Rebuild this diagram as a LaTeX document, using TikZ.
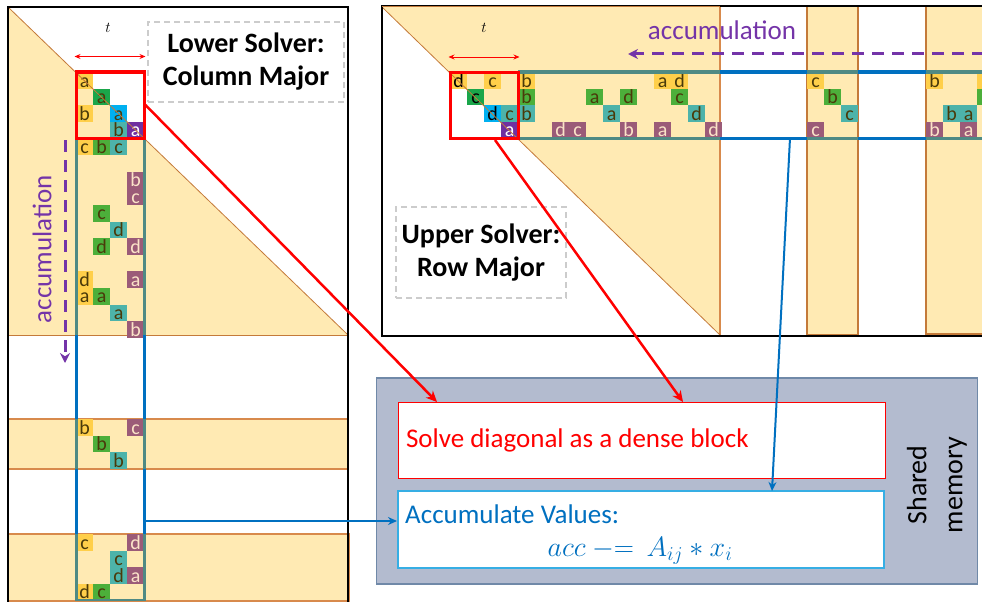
\RequirePackage{fix-cm}
\documentclass[tikz,border=0pt]{standalone}
\usepackage{fontspec}
\setmainfont{Carlito}
\usetikzlibrary{positioning}
\usetikzlibrary{arrows.meta}

\definecolor{pale}{HTML}{FFEAB3}
\definecolor{edgebrown}{HTML}{C47A3A}
\definecolor{bandedge}{HTML}{D88A4C}
\definecolor{gold}{HTML}{FFCF4A}
\definecolor{leaf}{HTML}{4CAF3A}
\definecolor{dleaf}{HTML}{1AA64A}
\definecolor{sea}{HTML}{4DB3AA}
\definecolor{sky}{HTML}{00B0F0}
\definecolor{plum}{HTML}{9B5B78}
\definecolor{grape}{HTML}{7030A0}
\definecolor{ink}{HTML}{4A3A0A}
\definecolor{cream}{HTML}{FBE3C8}
\definecolor{slate}{HTML}{4F8A84}
\definecolor{navy}{HTML}{0070C0}
\definecolor{accent}{HTML}{7434A8}
\definecolor{shared}{HTML}{B3BBCF}
\definecolor{sharededge}{HTML}{7089A8}
\definecolor{lightblue}{HTML}{36AEE4}
\definecolor{dashgray}{HTML}{CCCCCC}

\tikzset{
    cell/.style={
        anchor=north west,
        minimum width=17pt, minimum height=16.6pt,
        inner sep=0pt, text height=13pt, text depth=0pt,
        text=ink, font=\fontsize{20}{20}\selectfont
    },
    ylw/.style={fill=gold},
    ylwk/.style={fill=gold, text=black},
    grn/.style={fill=leaf},
    dgrn/.style={fill=dleaf},
    dgrnk/.style={fill=dleaf, text=black},
    tea/.style={fill=sea},
    dblu/.style={fill=sky},
    dbluk/.style={fill=sky, text=black},
    mau/.style={fill=plum, text=cream},
    dpur/.style={fill=grape, text=white},
    blockbox/.style={
        draw=red, line width=3pt,
        minimum width=68pt, minimum height=66pt, inner sep=0pt
    },
    span/.style={red, line width=0.8pt, {Stealth[length=6pt,width=5pt]}-{Stealth[length=6pt,width=5pt]}},
    tlabel/.style={font=\fontsize{15}{15}\selectfont},
    accum/.style={text=accent, inner sep=0pt, font=\fontsize{27}{27}\selectfont},
    accarrow/.style={accent, line width=3pt, dash pattern=on 12pt off 8pt, -{Stealth[length=10pt,width=10pt]}},
    solverlbl/.style={
        draw=dashgray, line width=1.5pt, dash pattern=on 6pt off 4pt,
        fill=white, align=center,
        font=\bfseries\fontsize{28}{33}\selectfont
    },
    sharedbox/.style={draw=sharededge, fill=shared, line width=1.2pt, minimum width=601pt, minimum height=206pt},
    solvebox/.style={
        draw=red, fill=white, line width=1pt,
        minimum height=76pt, text width=471pt, inner sep=8pt,
        align=flush left, text=red, font=\fontsize{27}{27}\selectfont
    },
    accbox/.style={draw=lightblue, fill=white, line width=1.2pt, minimum width=486pt, minimum height=77pt},
    acctext/.style={text=navy, inner sep=1pt, font=\fontsize{27}{27}\selectfont},
    redarrow/.style={red, line width=2.5pt, -{Stealth[length=11pt,width=10pt]}},
    bluearrow/.style={navy, line width=2pt, -{Stealth[length=9pt,width=8pt]}}
}

\begin{document}
\begin{tikzpicture}[x=1pt, y=-1pt]
\useasboundingbox (0,0) rectangle (982,602);
\clip (0,0) rectangle (982,602);

% lower solver panel
\fill[pale] (8,7) -- (348,335) -- (8,335) -- cycle;
\draw[bandedge, fill=pale, line width=1.2pt] (8,419) rectangle (348,469);
\draw[bandedge, fill=pale, line width=1.2pt] (8,534) rectangle (349,601);
\draw[edgebrown, line width=1pt] (8,335) -- (348,335);

\foreach \c/\r/\s/\l in {0/0/ylw/a, 1/1/dgrn/a, 0/2/ylw/b, 2/2/dblu/a, 2/3/tea/b, 3/3/dpur/a,
        0/4/ylw/c, 1/4/grn/b, 2/4/tea/c, 3/6/mau/b, 3/7/mau/c,
        1/8/grn/c, 2/9/tea/d, 1/10/grn/d, 3/10/mau/d,
        0/12/ylw/d, 3/12/mau/a, 0/13/ylw/a, 1/13/grn/a, 2/14/tea/a, 3/15/mau/b}
    \node[cell, \s] (L\c-\r) at (76+17*\c, 72+16.6*\r) {\l};
\foreach \c/\r/\s/\l in {0/0/ylw/b, 3/0/mau/c, 1/1/grn/b, 2/2/tea/b}
    \node[cell, \s] (M\c-\r) at (76+17*\c, 419+16.6*\r) {\l};
\foreach \c/\r/\s/\l in {0/0/ylw/c, 3/0/mau/d, 2/1/tea/c, 2/2/tea/d, 3/2/mau/a, 0/3/ylw/d, 1/3/grn/c}
    \node[cell, \s] (N\c-\r) at (76+17*\c, 534+16.6*\r) {\l};

\draw[edgebrown, line width=0.8pt] (8,7) -- (348,335);
\foreach \x in {76,144} {
    \draw[navy, line width=3pt] (\x,138) -- (\x,601);
    \foreach \a/\b in {138/335, 419/469, 534/601}
        \draw[slate, line width=3pt] (\x,\a) -- (\x,\b);
}
\draw[slate, line width=2.5pt] (76,600) -- (144,600);
\draw[line width=1.2pt] (8,602) -- (8,7) -- (348,7) -- (348,602);

\node[blockbox] (lblk) at (110,105) {};
\node[tlabel] (lt) at (108,28) {$t$};
\draw[span] ([yshift=14pt]lblk.north west) -- ([yshift=14pt]lblk.north east);
\node[solverlbl, minimum width=196pt, minimum height=80pt] (lowerlbl) at (246,62) {Lower Solver:\\Column Major};

\node[accum, rotate=90] (accleft) at (42,249) {accumulation};
\coordinate (ldash1) at (65,140);
\coordinate (ldash2) at (65,363);
\draw[accarrow] (ldash1) -- (ldash2);

% upper solver panel
\fill[pale] (382,7) -- (720,7) -- (720,335) -- cycle;
\draw[bandedge, line width=1.2pt] (720,7) -- (720,335);
\draw[edgebrown, fill=pale, line width=1.2pt] (807,6) rectangle (858,335);
\draw[edgebrown, fill=pale, line width=1.2pt] (926,6) rectangle (992,334);

\foreach \c/\r/\s/\l in {0/0/ylwk/d, 2/0/ylw/c, 4/0/ylw/b, 12/0/ylw/a, 13/0/ylw/d,
        1/1/dgrnk/c, 4/1/grn/b, 8/1/grn/a, 10/1/grn/d, 13/1/grn/c,
        2/2/dbluk/d, 3/2/tea/c, 4/2/tea/b, 9/2/tea/a, 14/2/tea/d,
        3/3/dpur/a, 6/3/mau/d, 7/3/mau/c, 10/3/mau/b, 12/3/mau/a, 15/3/mau/d}
    \node[cell, \s] (R\c-\r) at (450+17*\c, 72+16.6*\r) {\l};
\foreach \c/\r/\s/\l in {0/0/ylw/c, 1/1/grn/b, 2/2/tea/c, 0/3/mau/c}
    \node[cell, \s] (S\c-\r) at (807+17*\c, 72+16.6*\r) {\l};
\foreach \c/\r/\s/\l in {0/0/ylw/b, 3/0/ylw/{}, 3/1/grn/{}, 1/2/tea/b, 2/2/tea/a, 0/3/mau/b, 2/3/mau/a}
    \node[cell, \s] (T\c-\r) at (926+17*\c, 72+16.6*\r) {\l};

\draw[edgebrown, line width=0.8pt] (382,7) -- (720,335);
\foreach \y in {72,138} {
    \draw[navy, line width=3pt] (518,\y) -- (982,\y);
    \foreach \a/\b in {518/720, 807/858, 926/982}
        \draw[slate, line width=3pt] (\a,\y) -- (\b,\y);
}
\draw[line width=1.2pt] (982,6) -- (382,6) -- (382,336) -- (982,336);
\draw[edgebrown, line width=1.2pt] (382,6.5) -- (720,6.5);

\node[blockbox] (rblk) at (484,105.5) {};
\node[tlabel] (rt) at (484,28) {$t$};
\draw[span] ([yshift=14pt]rblk.north west) -- ([yshift=14pt]rblk.north east);
\node[solverlbl, minimum width=170pt, minimum height=91pt] (upperlbl) at (481,252.5) {Upper Solver:\\Row Major};

\node[accum] (acctop) at (722,30) {accumulation};
\coordinate (rdash1) at (984,54);
\coordinate (rdash2) at (628,54);
\draw[accarrow] (rdash1) -- (rdash2);

% shared memory
\node[sharedbox] (shm) at (677,481) {};
\node[solvebox] (solve) at (641.5,440) {Solve diagonal as a dense block};
\node[accbox] (acc) at (641,529.5) {};
\node[acctext, anchor=west] (accname) at (404,514) {Accumulate Values:};
\node[acctext, font=\fontsize{28}{28}\selectfont] (accform) at (640,551) {$acc\ {-}{=}\ \ A_{ij} * x_i$};
\node[rotate=90, align=center, font=\fontsize{28}{36}\selectfont] (shmtxt) at (937,485) {Shared\\memory};

% connectors
\coordinate (rout) at ([xshift=11pt]rblk.south);
\coordinate (solvein1) at (437,402);
\coordinate (solvein2) at (683,402);
\coordinate (colout) at (146,521);
\coordinate (accin1) at (397,521);
\coordinate (rowout) at (790,138);
\coordinate (accin2) at (772,491);
\draw[redarrow] (lblk.east) -- (solvein1);
\draw[redarrow] (rout) -- (solvein2);
\draw[bluearrow] (colout) -- (accin1);
\draw[bluearrow] (rowout) -- (accin2);
\end{tikzpicture}
\end{document}
